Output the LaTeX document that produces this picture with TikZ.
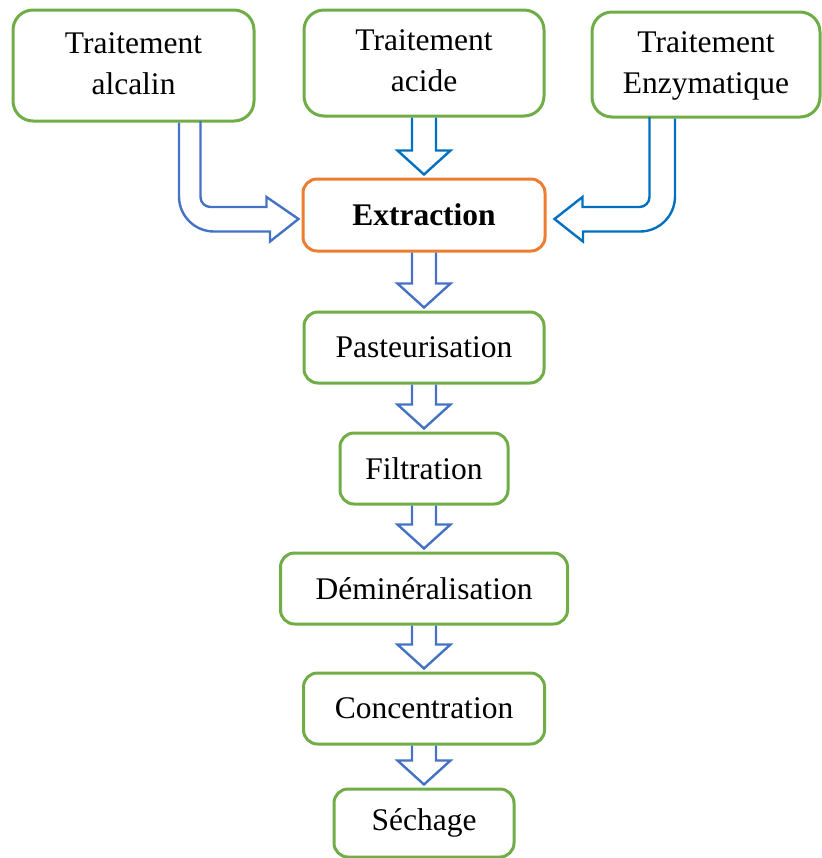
\documentclass[tikz,border=0pt]{standalone}
\usepackage{fontspec}
\setmainfont{Liberation Serif}
\usetikzlibrary{calc}

\definecolor{boxgreen}{HTML}{70AD47}
\definecolor{boxorange}{HTML}{ED7D31}
\definecolor{arrblue}{HTML}{4472C4}
\definecolor{arrdark}{HTML}{0070C0}

\begin{document}
\begin{tikzpicture}[x=0.5pt,y=-0.5pt,
	stage/.style={draw=boxgreen, line width=1.5pt, rounded corners=7pt, fill=white, align=center, inner sep=0pt, font=\fontsize{15.75}{20.5}\selectfont},
	block/.style={draw=arrblue, line width=1.2pt, line join=miter}]
	\useasboundingbox (0,0) rectangle (821,858);

	% treatments
	\node[stage, rounded corners=10pt, minimum width=120.5pt, minimum height=55.5pt] (alc)	at (133.5,65.5)	{Traitement\strut\\alcalin\strut};
	\node[stage, rounded corners=10pt, minimum width=120pt, minimum height=53pt] (acid)		at (424,63)		{Traitement\strut\\acide\strut};
	\node[stage, rounded corners=10pt, minimum width=114pt, minimum height=52.5pt] (enz)		at (706,64.5)	{Traitement\strut\\Enzymatique\strut};

	% process chain
	\node[stage, draw=boxorange, minimum width=121pt, minimum height=36pt] (extr)	at (424,215)	{\textbf{Extraction}};
	\node[stage, minimum width=120pt, minimum height=35.5pt] (past)				at (424,347.5)	{Pasteurisation};
	\node[stage, minimum width=84pt, minimum height=35.5pt] (filt)				at (424,468.5)	{Filtration};
	\node[stage, minimum width=143.5pt, minimum height=35.5pt] (demin)			at (424,588.5)	{Déminéralisation};
	\node[stage, minimum width=120.5pt, minimum height=35.5pt] (conc)			at (424,708.5)	{Concentration};
	\node[stage, minimum width=90pt, minimum height=34pt] (sech)				at (424,823)	{Séchage};

	% straight block arrows
	\foreach \a/\b/\c in {acid/extr/arrdark, extr/past/arrblue, past/filt/arrblue, filt/demin/arrblue, demin/conc/arrblue, conc/sech/arrblue}
		\draw[block, draw=\c] ($(\a.south)+(-12,0)$) -- ($(\b.north)+(-12,-27)$) -- ($(\b.north)+(-26.5,-27)$)
			-- ($(\b.north)+(0,-3)$) -- ($(\b.north)+(26.5,-27)$) -- ($(\b.north)+(12,-27)$) -- ($(\a.south)+(12,0)$);

	% bent block arrows
	\draw[block] ($(alc.south)+(45.5,0)$) --++(0,74) arc[start angle=180, end angle=90, radius=35] --++(56,0) --++(0,10)
		-- ($(extr.west)+(-3,4)$) --++(-32,-22) --++(0,10) --++(-56,0) arc[start angle=90, end angle=180, radius=10] --++(0,-76);
	\draw[block, draw=arrdark] ($(enz.south)+(-31,0)$) --++(0,78) arc[start angle=0, end angle=90, radius=35] --++(-57,0) --++(0,10)
		-- ($(extr.east)+(8,4)$) --++(28,-22) --++(0,10) --++(57,0) arc[start angle=90, end angle=0, radius=10] --++(0,-80);

\end{tikzpicture}
\end{document}
